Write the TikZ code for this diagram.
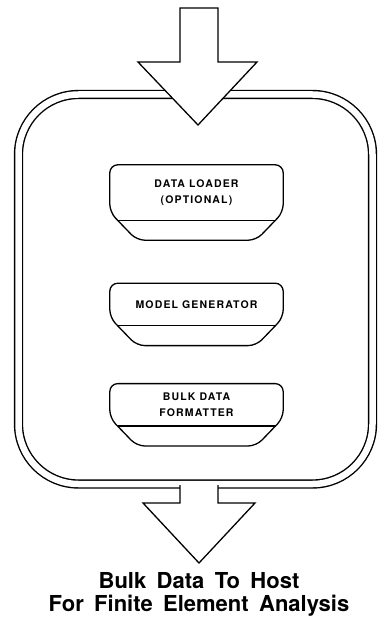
\documentclass[tikz,border=0pt]{standalone}
\usepackage{fontspec}
\setmainfont{TeX Gyre Heros}
\newfontfamily\stagefont[LetterSpace=11]{TeX Gyre Heros}
\newfontfamily\hostfont[WordSpace=1.7]{TeX Gyre Heros}
\usetikzlibrary{positioning, calc}

\begin{document}
\begin{tikzpicture}[
    x=1pt, y=-1pt,
    frame/.style={
        rectangle,
        draw=black,
        double=white,
        double distance=6.5pt,
        line width=1.4pt,
        rounded corners=60pt,
        minimum width=354pt,
        minimum height=389.5pt
    },
    stage/.style={
        rectangle,
        minimum width=173pt,
        minimum height=42pt,
        inner sep=0pt,
        align=center,
        font=\stagefont\bfseries\fontsize{10.5}{16.5}\selectfont
    },
    outline/.style={draw=black, line width=1.3pt, rounded corners=8pt},
    bigarrow/.style={draw=black, fill=white, line width=1.3pt, line join=miter}
]
\useasboundingbox (0,0) rectangle (377,617);

% container
\node[frame] (system) at (195.5,289.25) {};

% stages
\node[stage, minimum height=55pt] (loader) at (196.5,192.5) {DATA LOADER\\(OPTIONAL)};
\node[stage, below=63pt of loader] (generator) {MODEL GENERATOR};
\node[stage, below=58pt of generator] (formatter) {BULK DATA\\FORMATTER};

\foreach \n in {loader, generator, formatter} {
    \draw[outline] ($(\n.south west)+(27,20)$) -- ($(\n.south west)+(0,-8)$) -- (\n.north west)
        -- (\n.north east) -- ($(\n.south east)+(0,-8)$) -- ($(\n.south east)+(-27,20)$) -- cycle;
    \draw[line width=1.3pt] ($(\n.south west)+(7.7,0)$) -- ($(\n.south east)+(-7.7,0)$);
}

% data in / data out
\draw[bigarrow] (180,8) -- (180,62) -- (138,62) -- (198,125) -- (257,62) -- (218,62) -- (218,8) -- cycle;
\fill[white] (180,484) -- (180,503) -- (143,503) -- (199,563) -- (255,503) -- (218,503) -- (218,484) -- cycle;
\draw[bigarrow, fill=none] (180,485) -- (180,503) -- (143,503) -- (199,563) -- (255,503) -- (218,503) -- (218,485);

\node[anchor=north, inner sep=0pt, align=center, font=\hostfont\bfseries\fontsize{22}{23}\selectfont] (host)
    at (199,572) {Bulk Data To Host\\For Finite Element Analysis};

\end{tikzpicture}
\end{document}
